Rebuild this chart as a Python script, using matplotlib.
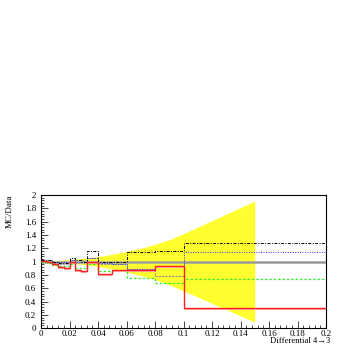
import numpy as np
import matplotlib
matplotlib.use("Agg")
from matplotlib import pyplot
from matplotlib.ticker import MultipleLocator

pyplot.rcParams['font.family'] = ['Liberation Serif', 'DejaVu Serif']

# bin edges of the ratio histograms
edges = [0, 0.004, 0.008, 0.012, 0.016, 0.02, 0.024, 0.028, 0.032, 0.04, 0.05, 0.06, 0.08, 0.1, 0.2]

# MC/Data ratios per bin
red = [1.01, 0.99, 0.96, 0.92, 0.90, 1.00, 0.88, 0.86, 1.00, 0.82, 0.87, 0.88, 0.94, 0.31]
green = [1.00, 0.98, 0.95, 0.94, 0.94, 0.96, 0.91, 0.91, 0.97, 0.86, 0.87, 0.75, 0.685, 0.735]
blue = [1.03, 1.02, 1.00, 0.99, 0.99, 1.02, 1.00, 1.00, 1.05, 0.98, 0.97, 0.89, 0.94, 1.14]
black = [1.02, 1.02, 1.00, 0.98, 0.98, 1.06, 1.03, 1.00, 1.16, 1.00, 1.00, 1.14, 1.16, 1.285]
grey = [1.00, 1.00, 0.98, 0.97, 0.97, 1.03, 1.02, 1.02, 1.06, 0.96, 0.96, 0.89, 0.79, 1.00]

# data uncertainty band
band_x = [0, 0.01, 0.02, 0.03, 0.04, 0.05, 0.06, 0.07, 0.08, 0.09, 0.1, 0.15]
band_lo = [0.99, 0.985, 0.975, 0.955, 0.925, 0.89, 0.845, 0.79, 0.73, 0.65, 0.56, 0.09]
band_hi = [1.01, 1.015, 1.03, 1.05, 1.075, 1.11, 1.155, 1.2, 1.26, 1.33, 1.42, 1.91]

fig = pyplot.figure(figsize=(3.54, 3.54), dpi=100)
ax = fig.add_axes([0.116, 0.073, 0.805, 0.376])

ax.fill_between(band_x, band_lo, band_hi, color='#ffff30', lw=0, zorder=1)
ax.axhline(1.0, color='#a0a0a0', lw=1.8, zorder=2)

red_arr = np.array(red)
ax.stairs(red_arr, edges, baseline=red_arr - 0.03, fill=True, color='#ffb0b0', zorder=2)
ax.stairs(grey, edges, color='#909090', lw=0.8, ls=(0, (2, 1)), baseline=None, zorder=3)
ax.stairs(green, edges, color='#33ee33', lw=0.9, ls=(0, (2, 1.5)), baseline=None, zorder=3)
ax.stairs(blue, edges, color='#3030ff', lw=0.7, ls=(0, (1, 1.5)), baseline=None, zorder=3)
ax.stairs(black, edges, color='black', lw=0.7, ls=(0, (3, 1.5, 1, 1.5)), baseline=None, zorder=3)
ax.stairs(red, edges, color='#ff2020', lw=1.0, baseline=None, zorder=4)

ax.set_xlim(0, 0.2)
ax.set_ylim(0, 2)
ax.xaxis.set_major_locator(MultipleLocator(0.02))
ax.xaxis.set_minor_locator(MultipleLocator(0.004))
ax.yaxis.set_major_locator(MultipleLocator(0.2))
ax.yaxis.set_minor_locator(MultipleLocator(0.04))
ax.xaxis.set_major_formatter(lambda v, p: '%g' % round(v, 3))
ax.yaxis.set_major_formatter(lambda v, p: '%g' % round(v, 2))
ax.tick_params(which='both', direction='in', top=False, right=False, labelsize=6.5, width=0.5)
ax.tick_params(which='major', length=5)
ax.tick_params(which='minor', length=2.5)
ax.tick_params(axis='x', pad=1.2)
for s in ax.spines.values():
    s.set_linewidth(0.8)

fig.text(0.028, 0.449, 'MC/Data', rotation=90, ha='center', va='top', fontsize=6.5)
fig.text(0.932, 0.037, 'Differential 4\u21923', ha='right', va='center', fontsize=6.2)

pyplot.savefig('out.png', dpi=100)
